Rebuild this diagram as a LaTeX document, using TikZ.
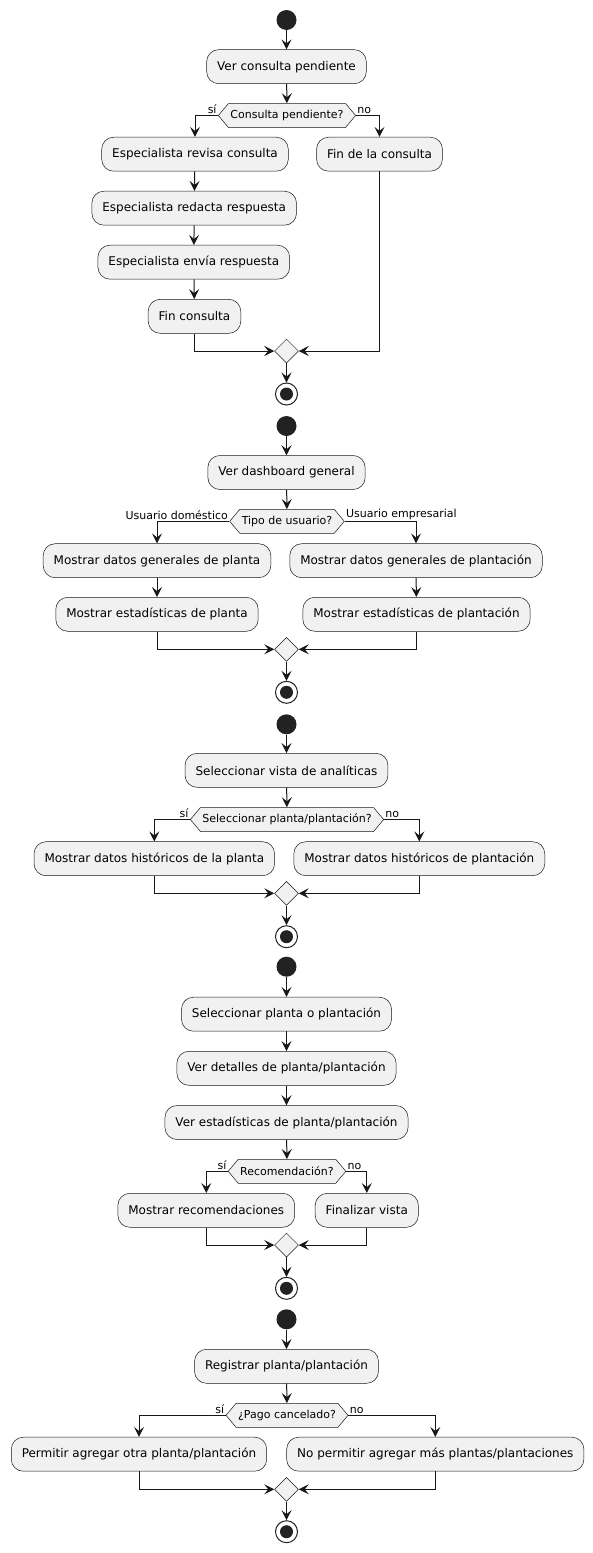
\documentclass[tikz,border=0pt]{standalone}
\usepackage{fontspec}
\setmainfont{DejaVu Sans}
\usetikzlibrary{arrows.meta,shapes.symbols,shapes.geometric}
\definecolor{actfill}{HTML}{F1F1F1}
\definecolor{actline}{HTML}{181818}
\definecolor{dotfill}{HTML}{222222}
\begin{document}
\begin{tikzpicture}[x=1pt,y=-1pt,
    act/.style={draw=actline,line width=0.5pt,fill=actfill,rounded corners=12pt,minimum height=34pt,inner xsep=10.5pt,inner ysep=0pt,font=\fontsize{12}{14}\selectfont},
    cond/.style={draw=actline,line width=0.5pt,fill=actfill,signal,signal to=west and east,signal pointer angle=100,minimum height=24pt,inner xsep=2pt,inner ysep=0pt,font=\fontsize{11}{13}\selectfont},
    merge/.style={draw=actline,line width=0.5pt,fill=actfill,diamond,minimum size=24pt,inner sep=0pt},
    startdot/.style={circle,fill=dotfill,minimum size=20pt,inner sep=0pt},
    stopdot/.style={circle,draw=dotfill,line width=1pt,fill=white,minimum size=22pt,inner sep=0pt,path picture={\fill[dotfill] (path picture bounding box.center) circle (6.5pt);}},
    flow/.style={draw=actline,line width=1pt,-{Stealth[length=10pt,width=10pt,inset=4pt]}},
    lbl/.style={font=\fontsize{11}{13}\selectfont,inner sep=1pt}]
                    \useasboundingbox (0,0) rectangle (593,1553);

                    \node[startdot] (a0) at (286.5,20) {};
                    \node[act] (a1) at (286.5,66.7) {Ver consulta pendiente};
                    \node[cond] (ad) at (287,115.5) {Consulta pendiente?};
                    \node[act] (a2) at (195,154.2) {Especialista revisa consulta};
                    \node[act] (a3) at (379.5,154.2) {Fin de la consulta};
                    \node[act] (a4) at (194.2,208.2) {Especialista redacta respuesta};
                    \node[act] (a5) at (193.8,262.2) {Especialista envía respuesta};
                    \node[act] (a6) at (194.5,316.3) {Fin consulta};
                    \node[merge] (am) at (286.5,351) {};
                    \node[stopdot] (ae) at (286.5,394) {};
                    \draw[flow] (a0) -- (a1);
                    \draw[flow] (a1) -- (ad);
                    \draw[flow] (ad.west) node[lbl,anchor=south east] {sí} -| (a2.north);
                    \draw[flow] (ad.east) node[lbl,anchor=south west] {no} -| (a3.north);
                    \draw[flow] (a2) -- (a4);
                    \draw[flow] (a4) -- (a5);
                    \draw[flow] (a5) -- (a6);
                    \draw[flow] (a6.south) |- (am.west);
                    \draw[flow] (a3.south) |- (am.east);
                    \draw[flow] (am) -- (ae);

                    \node[startdot] (b0) at (286.5,426) {};
                    \node[act] (b1) at (286.5,472.5) {Ver dashboard general};
                    \node[cond] (bd) at (287,521.3) {Tipo de usuario?};
                    \node[act] (b2) at (157,560.7) {Mostrar datos generales de planta};
                    \node[act] (b3) at (416,560.7) {Mostrar datos generales de plantación};
                    \node[act] (b4) at (157,614.3) {Mostrar estadísticas de planta};
                    \node[act] (b5) at (416.5,614.3) {Mostrar estadísticas de plantación};
                    \node[merge] (bm) at (286.5,649.3) {};
                    \node[stopdot] (be) at (286.5,692.3) {};
                    \draw[flow] (b0) -- (b1);
                    \draw[flow] (b1) -- (bd);
                    \draw[flow] (bd.west) node[lbl,anchor=south east] {Usuario doméstico} -| (b2.north);
                    \draw[flow] (bd.east) node[lbl,anchor=south west] {Usuario empresarial} -| (b3.north);
                    \draw[flow] (b2) -- (b4);
                    \draw[flow] (b3) -- (b5);
                    \draw[flow] (b4.south) |- (bm.west);
                    \draw[flow] (b5.south) |- (bm.east);
                    \draw[flow] (bm) -- (be);

                    \node[startdot] (c0) at (286.5,724.3) {};
                    \node[act] (c1) at (286.5,770.3) {Seleccionar vista de analíticas};
                    \node[cond] (cd) at (287,819.5) {Seleccionar planta/plantación?};
                    \node[act] (c2) at (154.3,858.7) {Mostrar datos históricos de la planta};
                    \node[act] (c3) at (419.3,858.7) {Mostrar datos históricos de plantación};
                    \node[merge] (cm) at (286.5,893.3) {};
                    \node[stopdot] (ce) at (286.5,936.7) {};
                    \draw[flow] (c0) -- (c1);
                    \draw[flow] (c1) -- (cd);
                    \draw[flow] (cd.west) node[lbl,anchor=south east] {sí} -| (c2.north);
                    \draw[flow] (cd.east) node[lbl,anchor=south west] {no} -| (c3.north);
                    \draw[flow] (c2.south) |- (cm.west);
                    \draw[flow] (c3.south) |- (cm.east);
                    \draw[flow] (cm) -- (ce);

                    \node[startdot] (d0) at (286.5,966.7) {};
                    \node[act] (d1) at (286.5,1014.2) {Seleccionar planta o plantación};
                    \node[act] (d2) at (286.5,1068.3) {Ver detalles de planta/plantación};
                    \node[act] (d3) at (286.5,1122.5) {Ver estadísticas de planta/plantación};
                    \node[cond] (dd) at (287,1171.3) {Recomendación?};
                    \node[act] (d4) at (206.3,1210.3) {Mostrar recomendaciones};
                    \node[act] (d5) at (366.8,1210.3) {Finalizar vista};
                    \node[merge] (dm) at (286.5,1245) {};
                    \node[stopdot] (de) at (286.5,1288.3) {};
                    \draw[flow] (d0) -- (d1);
                    \draw[flow] (d1) -- (d2);
                    \draw[flow] (d2) -- (d3);
                    \draw[flow] (d3) -- (dd);
                    \draw[flow] (dd.west) node[lbl,anchor=south east] {sí} -| (d4.north);
                    \draw[flow] (dd.east) node[lbl,anchor=south west] {no} -| (d5.north);
                    \draw[flow] (d4.south) |- (dm.west);
                    \draw[flow] (d5.south) |- (dm.east);
                    \draw[flow] (dm) -- (de);

                    \node[startdot] (e0) at (286.5,1319.3) {};
                    \node[act] (e1) at (286.5,1366.3) {Registrar planta/plantación};
                    \node[cond] (ed) at (287,1415.3) {¿Pago cancelado?};
                    \node[act] (e2) at (139,1454.2) {Permitir agregar otra planta/plantación};
                    \node[act] (e3) at (435.3,1454.2) {No permitir agregar más plantas/plantaciones};
                    \node[merge] (em) at (286.5,1489.3) {};
                    \node[stopdot] (ee) at (286.5,1531.7) {};
                    \draw[flow] (e0) -- (e1);
                    \draw[flow] (e1) -- (ed);
                    \draw[flow] (ed.west) node[lbl,anchor=south east] {sí} -| (e2.north);
                    \draw[flow] (ed.east) node[lbl,anchor=south west] {no} -| (e3.north);
                    \draw[flow] (e2.south) |- (em.west);
                    \draw[flow] (e3.south) |- (em.east);
                    \draw[flow] (em) -- (ee);
\end{tikzpicture}
\end{document}
